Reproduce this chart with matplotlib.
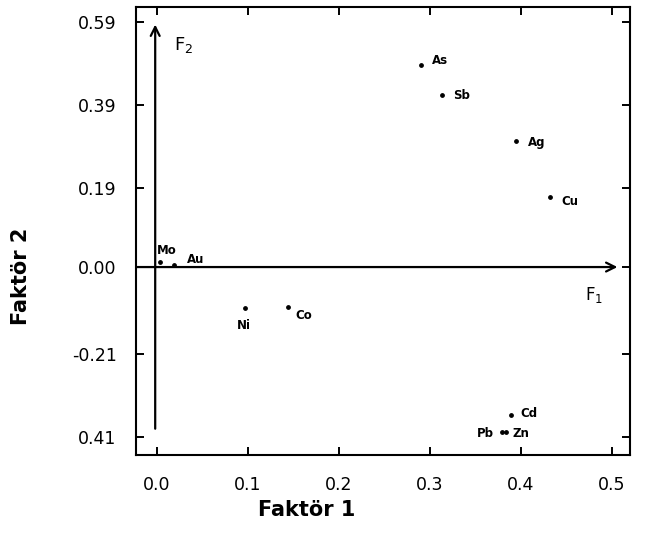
import matplotlib
matplotlib.use('Agg')
from matplotlib import pyplot as plt

# factor loadings
elements = ['As', 'Sb', 'Ag', 'Cu', 'Mo', 'Au', 'Ni', 'Co', 'Cd', 'Pb', 'Zn']
f1_values = [0.290, 0.313, 0.395, 0.432, 0.003, 0.019, 0.097, 0.144, 0.389, 0.379, 0.383]
f2_values = [0.488, 0.416, 0.304, 0.168, 0.013, 0.006, -0.098, -0.097, -0.357, -0.397, -0.397]

y_ticks = [0.59, 0.39, 0.19, 0.00, -0.21, -0.41]
y_tick_labels = ['0.59', '0.39', '0.19', '0.00', '-0.21', '0.41']
x_ticks = [0.0, 0.1, 0.2, 0.3, 0.4, 0.5]
x_tick_labels = ['0.0', '0.1', '0.2', '0.3', '0.4', '0.5']

# label offsets in points (dx, dy, ha)
label_pos = {
    'As': (8, 3, 'left'), 'Sb': (8, -1, 'left'), 'Ag': (8, -1, 'left'),
    'Cu': (8, -3, 'left'), 'Mo': (-2, 8, 'left'), 'Au': (9, 4, 'left'),
    'Ni': (-1, -13, 'center'), 'Co': (5, -6, 'left'), 'Cd': (7, 1, 'left'),
    'Pb': (-6, -1, 'right'), 'Zn': (5, -1, 'left'),
}

fig = plt.figure(figsize=(6.45, 5.48), dpi=100)
ax = fig.add_axes([0.211, 0.170, 0.766, 0.817])

ax.scatter(f1_values, f2_values, s=6, color='black', zorder=3)
for name, x, y in zip(elements, f1_values, f2_values):
    dx, dy, ha = label_pos[name]
    ax.annotate(name, (x, y), xytext=(dx, dy), textcoords='offset points',
                ha=ha, va='center', fontsize=8.5, fontweight='bold')

# factor axes as arrows
ax.annotate('', xy=(0.506, 0.0), xytext=(-0.023, 0.0),
            arrowprops=dict(arrowstyle='->', color='black', lw=1.6,
                            mutation_scale=16, shrinkA=0, shrinkB=0))
ax.annotate('', xy=(-0.002, 0.585), xytext=(-0.002, -0.39),
            arrowprops=dict(arrowstyle='->', color='black', lw=1.6,
                            mutation_scale=16, shrinkA=0, shrinkB=0))
ax.text(0.019, 0.535, 'F$_2$', fontsize=13, ha='left', va='center')
ax.text(0.470, -0.068, 'F$_1$', fontsize=12, ha='left', va='center')

ax.set_xlim(-0.023, 0.520)
ax.set_ylim(-0.453, 0.627)
ax.set_xticks(x_ticks)
ax.set_xticklabels(x_tick_labels)
ax.set_yticks(y_ticks)
ax.set_yticklabels(y_tick_labels)
ax.tick_params(direction='in', length=6, width=1.4, labelsize=12.5,
               top=True, right=True)
ax.tick_params(axis='y', pad=14)
ax.tick_params(axis='x', pad=15)
for sp in ax.spines.values():
    sp.set_linewidth(1.5)

fig.text(0.476, 0.070, 'Faktör 1', fontsize=15, fontweight='bold', ha='center', va='center')
fig.text(0.033, 0.495, 'Faktör 2', fontsize=15, fontweight='bold', ha='center', va='center',
         rotation=90)

fig.savefig('out.png', dpi=100)
